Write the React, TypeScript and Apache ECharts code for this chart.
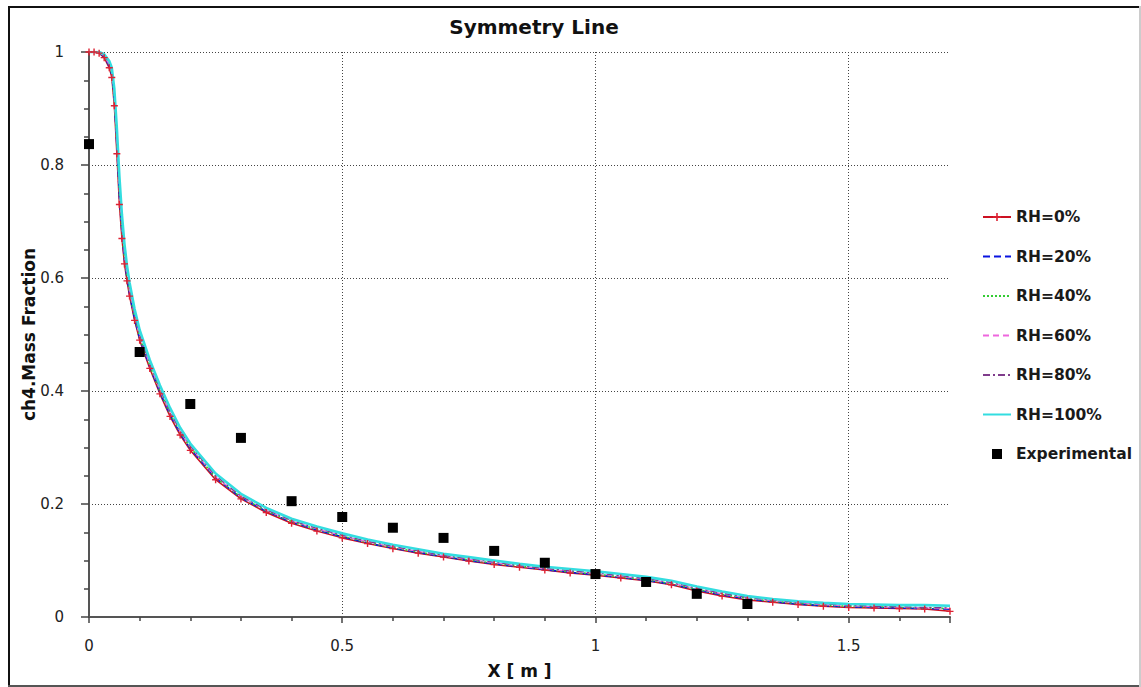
import React, { useEffect, useRef } from "react";
import * as echarts from "echarts";

const X = [0, 0.01, 0.02, 0.03, 0.04, 0.045, 0.05, 0.055, 0.06, 0.065, 0.07, 0.075, 0.08, 0.09, 0.1, 0.12, 0.14, 0.16, 0.18, 0.2, 0.25, 0.3, 0.35, 0.4, 0.45, 0.5, 0.55, 0.6, 0.65, 0.7, 0.75, 0.8, 0.85, 0.9, 0.95, 1.0, 1.05, 1.1, 1.15, 1.2, 1.25, 1.3, 1.35, 1.4, 1.45, 1.5, 1.55, 1.6, 1.65, 1.7];

const RH0 = [1.0, 1.0, 0.998, 0.99, 0.972, 0.955, 0.905, 0.82, 0.73, 0.67, 0.625, 0.595, 0.568, 0.525, 0.49, 0.44, 0.395, 0.355, 0.322, 0.295, 0.243, 0.209, 0.185, 0.166, 0.152, 0.14, 0.13, 0.121, 0.113, 0.106, 0.099, 0.093, 0.088, 0.083, 0.078, 0.074, 0.069, 0.064, 0.057, 0.046, 0.037, 0.03, 0.026, 0.022, 0.019, 0.017, 0.016, 0.015, 0.014, 0.01];
const RH20 = [1.0, 1.0, 0.999, 0.992, 0.975, 0.96, 0.915, 0.835, 0.745, 0.68, 0.632, 0.6, 0.572, 0.528, 0.493, 0.443, 0.398, 0.358, 0.325, 0.298, 0.246, 0.211, 0.187, 0.168, 0.154, 0.142, 0.131, 0.122, 0.114, 0.107, 0.1, 0.094, 0.089, 0.084, 0.079, 0.075, 0.07, 0.065, 0.058, 0.048, 0.039, 0.032, 0.027, 0.023, 0.02, 0.018, 0.017, 0.016, 0.015, 0.014];
const RH40 = [1.0, 1.0, 0.999, 0.993, 0.977, 0.962, 0.918, 0.84, 0.75, 0.685, 0.636, 0.603, 0.575, 0.531, 0.495, 0.445, 0.4, 0.36, 0.327, 0.3, 0.247, 0.212, 0.188, 0.169, 0.155, 0.143, 0.132, 0.123, 0.115, 0.108, 0.101, 0.095, 0.09, 0.085, 0.08, 0.076, 0.071, 0.066, 0.059, 0.049, 0.04, 0.033, 0.028, 0.024, 0.021, 0.019, 0.018, 0.017, 0.016, 0.015];
const RH60 = [1.0, 1.0, 0.999, 0.993, 0.978, 0.964, 0.921, 0.845, 0.755, 0.69, 0.64, 0.606, 0.578, 0.533, 0.497, 0.447, 0.402, 0.362, 0.328, 0.301, 0.248, 0.213, 0.189, 0.17, 0.156, 0.144, 0.133, 0.124, 0.116, 0.108, 0.102, 0.096, 0.09, 0.085, 0.081, 0.077, 0.072, 0.067, 0.06, 0.05, 0.041, 0.034, 0.029, 0.025, 0.022, 0.02, 0.018, 0.017, 0.016, 0.015];
const RH80 = [1.0, 1.0, 0.999, 0.994, 0.98, 0.966, 0.925, 0.85, 0.76, 0.695, 0.645, 0.61, 0.581, 0.536, 0.5, 0.449, 0.404, 0.364, 0.33, 0.303, 0.25, 0.214, 0.19, 0.171, 0.157, 0.145, 0.134, 0.125, 0.117, 0.109, 0.103, 0.097, 0.091, 0.086, 0.082, 0.078, 0.073, 0.068, 0.061, 0.051, 0.042, 0.035, 0.03, 0.026, 0.023, 0.021, 0.019, 0.018, 0.017, 0.016];
const RH100 = [1.0, 1.0, 1.0, 0.996, 0.984, 0.972, 0.935, 0.865, 0.78, 0.712, 0.66, 0.622, 0.592, 0.545, 0.508, 0.455, 0.41, 0.37, 0.335, 0.307, 0.254, 0.218, 0.193, 0.174, 0.16, 0.148, 0.137, 0.128, 0.12, 0.112, 0.106, 0.1, 0.094, 0.089, 0.085, 0.081, 0.076, 0.071, 0.064, 0.054, 0.045, 0.037, 0.032, 0.028, 0.025, 0.023, 0.022, 0.021, 0.021, 0.02];

const EXP_X = [0, 0.1, 0.2, 0.3, 0.4, 0.5, 0.6, 0.7, 0.8, 0.9, 1.0, 1.1, 1.2, 1.3];
const EXP_Y = [0.837, 0.469, 0.377, 0.317, 0.205, 0.177, 0.158, 0.14, 0.117, 0.096, 0.076, 0.062, 0.041, 0.023];

const X_TICKS = [0, 0.5, 1, 1.5];

const FONT = "DejaVu Sans";
const PLUS = "path://M4,0H6V10H4Z M0,4H10V6H0Z";
const SQUARE = "path://M0,0H10V10H0Z";

function pairs(xs: number[], ys: number[]) {
  return xs.map((x, i) => [x, ys[i]]);
}

export default function App() {
  const ref = useRef<HTMLDivElement>(null);
  useEffect(() => {
    if (!ref.current) return;
    const chart = echarts.init(ref.current, undefined, { renderer: "svg" });
    const lineSeries = (name: string, ys: number[], color: string, width: number, type: any, extra: any = {}) => ({
      name,
      type: "line",
      data: pairs(X, ys),
      showSymbol: false,
      symbol: "none",
      lineStyle: { color, width, type },
      itemStyle: { color },
      z: 2,
      ...extra,
    });
    const hidden = { opacity: 0 };
    chart.setOption({
      animation: false,
      backgroundColor: "#ffffff",
      textStyle: { fontFamily: FONT },
      title: {
        text: "Symmetry Line",
        left: 529,
        top: 12,
        textAlign: "center",
        textStyle: { fontFamily: FONT, fontWeight: "bold", fontSize: 20, color: "#111" },
      },
      grid: { left: 89, top: 52, right: 191, bottom: 70, containLabel: false },
      legend: {
        orient: "vertical",
        left: 977,
        top: 204,
        itemWidth: 28,
        itemHeight: 10,
        itemGap: 23.5,
        data: [
          { name: "RH=0%" },
          { name: "RH=20%", itemStyle: hidden },
          { name: "RH=40%", itemStyle: hidden },
          { name: "RH=60%", itemStyle: hidden },
          { name: "RH=80%", itemStyle: hidden },
          { name: "RH=100%", itemStyle: hidden },
          { name: "Experimental", icon: SQUARE },
        ],
        textStyle: { fontFamily: FONT, fontWeight: "bold", fontSize: 15.5, color: "#1a1a1a", padding: [0, 0, 0, 0] },
      },
      xAxis: {
        type: "value",
        min: 0,
        max: 1.7,
        interval: 0.5,
        offset: 9,
        name: "X [ m ]",
        nameLocation: "middle",
        nameGap: 36,
        nameTextStyle: { fontFamily: FONT, fontWeight: "bold", fontSize: 17, color: "#111" },
        axisLine: { show: true, lineStyle: { color: "#555", width: 2 } },
        axisTick: { show: true, length: 6, lineStyle: { color: "#444", width: 1.5 } },
        minorTick: { show: true, splitNumber: 5, length: 4, lineStyle: { color: "#444", width: 1.5 } },
        axisLabel: { fontFamily: FONT, fontSize: 15, color: "#222", margin: 12, customValues: X_TICKS },
        splitLine: { show: true, showMaxLine: false, lineStyle: { color: "#444", width: 1, type: [1, 2] } },
      },
      yAxis: {
        type: "value",
        min: 0,
        max: 1,
        interval: 0.2,
        offset: 9,
        name: "ch4.Mass Fraction",
        nameLocation: "middle",
        nameGap: 43,
        nameMoveOverlap: false,
        nameTextStyle: { fontFamily: FONT, fontWeight: "bold", fontSize: 17, color: "#111" },
        axisLine: { show: true, lineStyle: { color: "#555", width: 2 } },
        axisTick: { show: true, length: 8, lineStyle: { color: "#444", width: 1.5 } },
        minorTick: { show: true, splitNumber: 4, length: 5, lineStyle: { color: "#444", width: 1.5 } },
        axisLabel: { fontFamily: FONT, fontSize: 15, color: "#222", margin: 16 },
        splitLine: { show: true, lineStyle: { color: "#444", width: 1, type: [1, 2] } },
      },
      series: [
        lineSeries("RH=0%", RH0, "#cc1122", 1.5, "solid", {
          showSymbol: true,
          symbol: PLUS,
          symbolSize: 7,
          itemStyle: { color: "#dd2233" },
        }),
        lineSeries("RH=20%", RH20, "#0a14e0", 1.6, [7, 4]),
        lineSeries("RH=40%", RH40, "#33cc33", 1.6, [2, 2]),
        lineSeries("RH=60%", RH60, "#ee66dd", 1.2, [6, 4]),
        lineSeries("RH=80%", RH80, "#803c8c", 1.3, [7, 3, 2, 3]),
        lineSeries("RH=100%", RH100, "#33dde0", 2.6, "solid"),
        {
          name: "Experimental",
          type: "scatter",
          data: pairs(EXP_X, EXP_Y),
          symbol: "rect",
          symbolSize: 10,
          itemStyle: { color: "#000", opacity: 1 },
          z: 5,
        },
      ],
      graphic: [
        { type: "rect", shape: { x: 8, y: 6, width: 1133, height: 2 }, style: { fill: "#111" }, silent: true },
        { type: "rect", shape: { x: 8, y: 6, width: 2, height: 681 }, style: { fill: "#111" }, silent: true },
        { type: "rect", shape: { x: 8, y: 685, width: 1133, height: 2 }, style: { fill: "#555" }, silent: true },
        { type: "rect", shape: { x: 1139, y: 6, width: 2, height: 681 }, style: { fill: "#ccc" }, silent: true },
      ],
    });
    return () => chart.dispose();
  }, []);
  return (
    <div
      ref={ref}
      style={{ position: "absolute", left: 0, top: 0, width: 1141, height: 687, background: "#fff" }}
    />
  );
}
